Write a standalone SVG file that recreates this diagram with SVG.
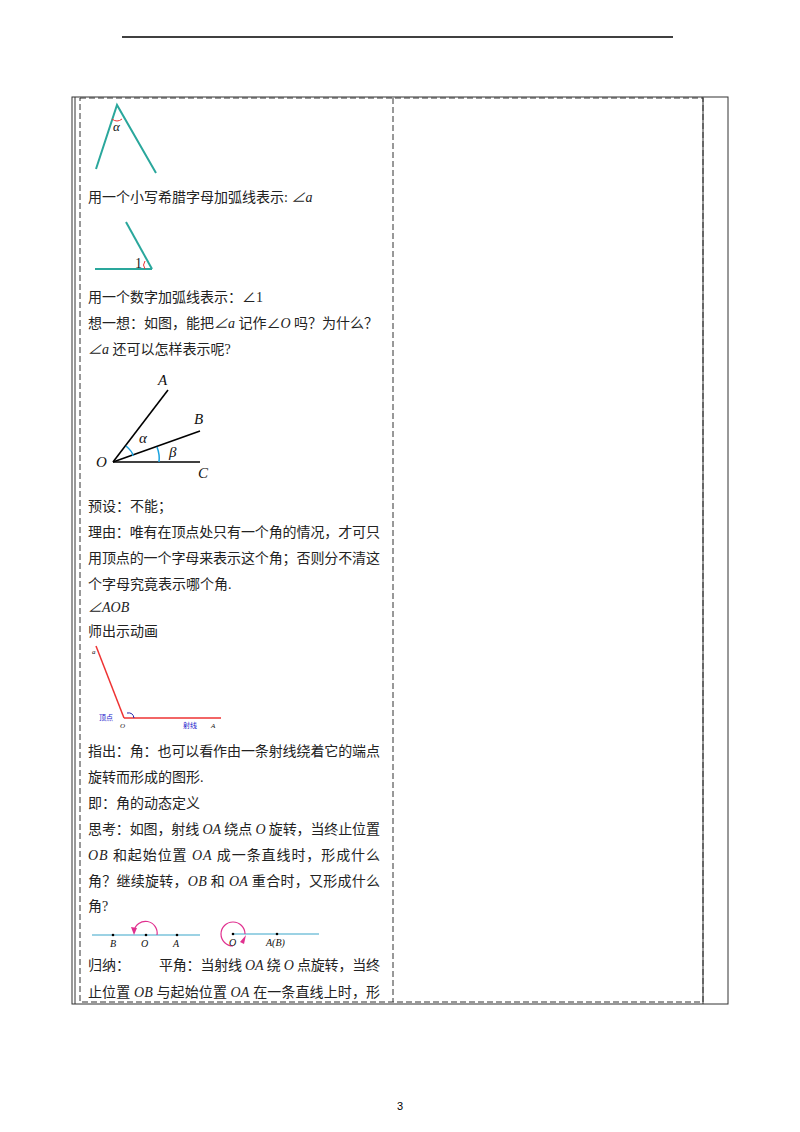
<svg xmlns="http://www.w3.org/2000/svg" width="800" height="1132" viewBox="0 0 800 1132">
<style>
.t{font-family:"Liberation Serif","Noto Sans CJK SC",serif;font-size:14px;fill:#222}
.i{font-style:italic}
.m{font-family:"Liberation Serif",serif;font-style:italic;fill:#111}
.teal{stroke:#2aa79c;stroke-width:2;fill:none}
.blk{stroke:#000;stroke-width:1.6;fill:none}
.ds{stroke:#333;stroke-width:1;stroke-dasharray:6,3;fill:none}
.sl{stroke:#333;stroke-width:1;fill:none}
</style>
<rect width="800" height="1132" fill="#fff"/>
<g id="frame">
<line x1="122" y1="37" x2="673" y2="37" stroke="#000" stroke-width="1.5"/>
<rect x="72" y="97" width="656" height="907" class="sl"/>
<line x1="75" y1="97" x2="75" y2="1004" class="sl"/>
<line x1="703" y1="97" x2="703" y2="1004" class="sl"/>
<rect x="80" y="98" width="623" height="904" class="ds"/>
<line x1="393" y1="98" x2="393" y2="1002" class="ds"/>
</g>
<g id="fig1">
<polyline points="96,169 117,105 156,173" class="teal"/>
<path d="M112,119 Q117,123 122,119" stroke="#e33" fill="none"/>
<text x="113" y="131" class="m" font-size="13">α</text>
</g>
<text x="88" y="202" class="t">用一个小写希腊字母加弧线表示: <tspan class="i">∠a</tspan></text>
<g id="fig2">
<line x1="95" y1="269" x2="152" y2="269" class="teal"/>
<line x1="126" y1="222" x2="152" y2="269" class="teal"/>
<path d="M145,261 Q142,265 145,269" stroke="#e33" fill="none"/>
<text x="135" y="268" class="t" font-size="12">1</text>
</g>
<text x="88" y="302" class="t">用一个数字加弧线表示：∠1</text>
<text x="88" y="328" class="t" textLength="290" lengthAdjust="spacing">想一想：如图，能把<tspan class="i">∠a</tspan> 记作∠<tspan class="i">O</tspan>  吗？为什么？</text>
<text x="88" y="354" class="t"><tspan class="i">∠a</tspan> 还可以怎样表示呢?</text>
<g id="fig3">
<line x1="113" y1="462" x2="168" y2="390" class="blk"/>
<line x1="113" y1="462" x2="200" y2="431" class="blk"/>
<line x1="113" y1="462" x2="200" y2="462" class="blk"/>
<path d="M126,446 Q133,452 133,456" stroke="#1aa3e0" stroke-width="1.5" fill="none"/>
<path d="M157,447 Q160,455 159,462" stroke="#1aa3e0" stroke-width="1.5" fill="none"/>
<text x="158" y="385" class="m" font-size="15">A</text>
<text x="194" y="424" class="m" font-size="15">B</text>
<text x="198" y="478" class="m" font-size="15">C</text>
<text x="96" y="467" class="m" font-size="15">O</text>
<text x="139" y="443" class="m" font-size="15">α</text>
<text x="169" y="457" class="m" font-size="15">β</text>
</g>
<text x="88" y="511" class="t">预设：不能；</text>
<text x="88" y="537" class="t" textLength="292" lengthAdjust="spacing">理由：唯有在顶点处只有一个角的情况，才可只</text>
<text x="88" y="563" class="t" textLength="292" lengthAdjust="spacing">用顶点的一个字母来表示这个角；否则分不清这</text>
<text x="88" y="589" class="t">个字母究竟表示哪个角.</text>
<text x="88" y="612" class="t i">∠AOB</text>
<text x="88" y="636" class="t">师出示动画</text>
<g id="fig4">
<line x1="96" y1="646" x2="124" y2="718" stroke="#e33" stroke-width="1.5"/>
<line x1="124" y1="718" x2="221" y2="718" stroke="#e33" stroke-width="1.5"/>
<path d="M127,713 Q133,712 134,718" stroke="#22a" fill="none"/>
<text x="92" y="654" class="m" font-size="7">a</text>
<text x="99" y="720" font-family="Noto Sans CJK SC,sans-serif" font-size="7" fill="#22c">顶点</text>
<text x="120" y="728" class="m" font-size="7">O</text>
<text x="183" y="728" font-family="Noto Sans CJK SC,sans-serif" font-size="7" fill="#22c">射线</text>
<text x="211" y="728" class="m" font-size="7">A</text>
</g>
<text x="88" y="756" class="t" textLength="292" lengthAdjust="spacing">指出：角：也可以看作由一条射线绕着它的端点</text>
<text x="88" y="782" class="t">旋转而形成的图形.</text>
<text x="88" y="808" class="t">即：角的动态定义</text>
<text x="88" y="834" class="t" textLength="292" lengthAdjust="spacing">思考：如图，射线 <tspan class="i">OA</tspan> 绕点 <tspan class="i">O</tspan> 旋转，当终止位置</text>
<text x="88" y="860" class="t" textLength="292" lengthAdjust="spacing"><tspan class="i">OB</tspan> 和起始位置 <tspan class="i">OA</tspan> 成一条直线时，形成什么</text>
<text x="88" y="886" class="t" textLength="292" lengthAdjust="spacing">角？继续旋转，<tspan class="i">OB</tspan> 和 <tspan class="i">OA</tspan> 重合时，又形成什么</text>
<text x="88" y="911" class="t">角?</text>
<g id="fig5">
<line x1="92" y1="935" x2="200" y2="935" stroke="#3aa6c9" stroke-width="1.2"/>
<circle cx="113" cy="935" r="1.3"/><circle cx="146" cy="935" r="1.3"/><circle cx="177" cy="935" r="1.3"/>
<path d="M157,935 A11,11 0 0 0 134,931" stroke="#e0308f" stroke-width="1.2" fill="none"/>
<path d="M131,927 L134,935 L137,928 Z" fill="#e0308f"/>
<text x="110" y="947" class="m" font-size="10">B</text>
<text x="141" y="947" class="m" font-size="10">O</text>
<text x="173" y="947" class="m" font-size="10">A</text>
<line x1="233" y1="934" x2="319" y2="934" stroke="#3aa6c9" stroke-width="1.2"/>
<circle cx="233" cy="934" r="1.3"/><circle cx="277" cy="934" r="1.3"/>
<path d="M245,934 A12,12 0 1 0 233,946" stroke="#e0308f" stroke-width="1.2" fill="none"/>
<path d="M240,942 L246,935 L244,944 Z" fill="#e0308f"/>
<text x="229" y="946" class="m" font-size="10">O</text>
<text x="266" y="946" class="m" font-size="10">A(B)</text>
</g>
<text x="88" y="970" class="t">归纳：</text>
<text x="159" y="970" class="t" textLength="221" lengthAdjust="spacing">平角：当射线 <tspan class="i">OA</tspan> 绕 <tspan class="i">O</tspan> 点旋转，当终</text>
<text x="88" y="997" class="t" textLength="292" lengthAdjust="spacing">止位置 <tspan class="i">OB</tspan> 与起始位置 <tspan class="i">OA</tspan> 在一条直线上时，形</text>
<text x="400" y="1110" font-family="Liberation Sans,sans-serif" font-size="11" text-anchor="middle">3</text>
</svg>
